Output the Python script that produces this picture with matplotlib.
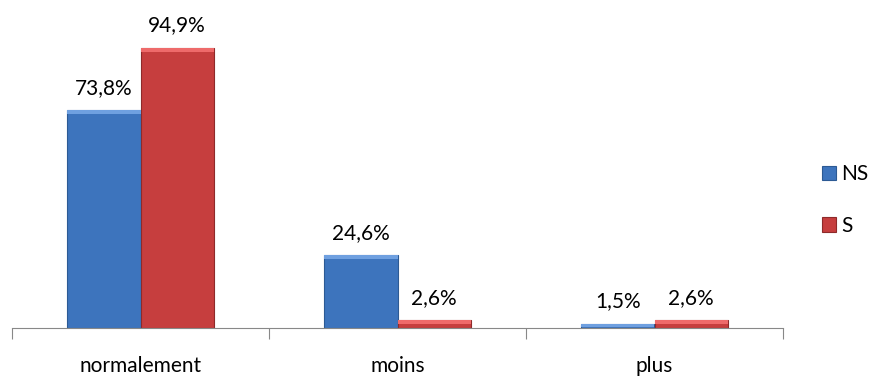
import numpy as np
import matplotlib.pyplot as plt
from matplotlib.patches import Rectangle

categories = ["normalement", "moins", "plus"]
ns_values = [73.8, 24.6, 1.5]
s_values = [94.9, 2.6, 2.6]
series_names = ["NS", "S"]

plt.rcParams['font.family'] = ['Lato', 'DejaVu Sans']

fig = plt.figure(figsize=(8.77, 3.76), dpi=100)
ax = fig.add_axes([12 / 877, 48 / 376, 771 / 877, 328 / 376])

x = np.arange(len(categories))
w = 0.285
blue = "#3d74bd"
red = "#c63e3e"
b1 = ax.bar(x - w / 2, ns_values, w, color=blue, edgecolor="#2c5a94", linewidth=0.8, label=series_names[0])
b2 = ax.bar(x + w / 2, s_values, w, color=red, edgecolor="#8e2a2a", linewidth=0.8, label=series_names[1])

# lighter bevel on the top of each bar
for bars, light in ((b1, "#6fa0e0"), (b2, "#ee6a6a")):
    for b in bars:
        h = min(b.get_height(), 1.2)
        ax.add_patch(Rectangle((b.get_x(), b.get_height() - h), b.get_width(), h,
                               color=light, lw=0))

for bars, vals in ((b1, ns_values), (b2, s_values)):
    for b, v in zip(bars, vals):
        ax.text(b.get_x() + b.get_width() / 2, v + 4.3, f"{v:.1f}%".replace(".", ","),
                ha="center", va="bottom", fontsize=15)

ax.set_xlim(-0.5, 2.5)
ax.set_ylim(0, 111.2)
for s in ["top", "right", "left"]:
    ax.spines[s].set_visible(False)
ax.spines["bottom"].set_color("#888888")
ax.set_yticks([])
ax.set_xticks([-0.5, 0.5, 1.5, 2.5])
ax.set_xticklabels([])
ax.tick_params(axis="x", length=8, color="#888888")
for i, c in enumerate(categories):
    ax.text(i, -0.085, c, transform=ax.get_xaxis_transform(), ha="center", va="top", fontsize=15)

leg = ax.legend(loc="center left", bbox_to_anchor=(803 / 877, 1 - 200 / 376),
                bbox_transform=fig.transFigure, frameon=False, fontsize=15,
                handlelength=0.7, handleheight=0.7, handletextpad=0.25, labelspacing=1.5)

plt.savefig("out.png", dpi=100)
